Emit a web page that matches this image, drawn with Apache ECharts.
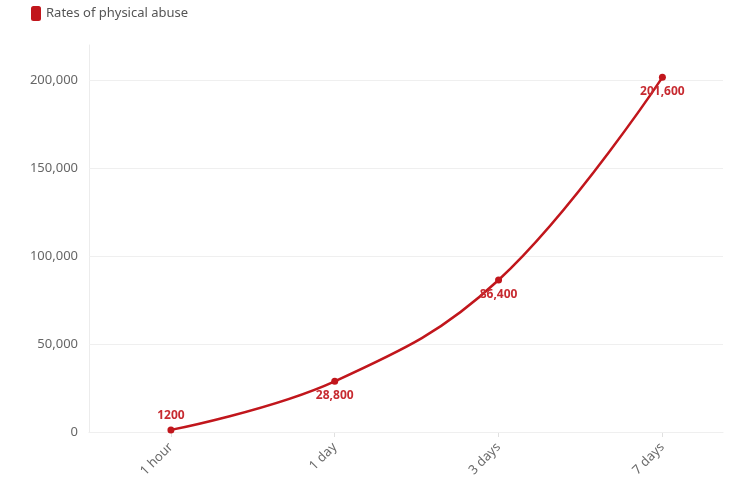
<!DOCTYPE html>
<html>
<head>
<meta charset="utf-8">
<script src="https://cdn.jsdelivr.net/npm/echarts@6/dist/echarts.min.js"></script>
<style>html,body{margin:0;padding:0;background:#fff;}#c{width:748px;height:486px;}</style>
</head>
<body>
<div id="c"></div>
<script>
const categories = ['1 hour', '1 day', '3 days', '7 days'];
const seriesName = 'Rates of physical abuse';
const values = [1200, 28800, 86400, 201600];
const valueLabels = ['1200', '28,800', '86,400', '201,600'];
const labelPositions = ['top', 'bottom', 'bottom', 'bottom'];
const yTicks = [0, 50000, 100000, 150000, 200000];

const RED = '#c1161c';
const chart = echarts.init(document.getElementById('c'), null, {renderer: 'canvas'});
const fmt = v => v.toLocaleString('en-US');

chart.setOption({
  animation: false,
  textStyle: {fontFamily: 'Noto Sans'},
  legend: {
    show: true, left: 26, top: 1, itemWidth: 10, itemHeight: 15, icon: 'roundRect', itemGap: 6,
    textStyle: {color: '#555', fontSize: 13, fontFamily: 'Noto Sans'},
    data: [seriesName]
  },
  grid: {left: 89, right: 25, top: 45, bottom: 54, containLabel: false},
  xAxis: {
    type: 'value', min: -0.5, max: 3.37, interval: 0.5,
    axisLine: {show: true, lineStyle: {color: '#ececec'}},
    axisTick: {show: true, length: 5, lineStyle: {color: '#e0e0e0'}, customValues: [0, 1, 2, 3]},
    splitLine: {show: false},
    axisLabel: {
      customValues: [0, 1, 2, 3], rotate: 45, color: '#6a6a6a', fontSize: 13, margin: 13,
      formatter: v => (Number.isInteger(v) && categories[v] !== undefined) ? categories[v] : ''
    }
  },
  yAxis: {
    type: 'value', min: 0, max: 220000, interval: 50000,
    axisLine: {show: true, onZero: false, lineStyle: {color: '#ececec'}},
    axisTick: {show: false},
    splitLine: {show: false},
    axisLabel: {color: '#666', fontSize: 13, margin: 11, formatter: v => fmt(v), customValues: yTicks}
  },
  series: [{
    name: 'grid', type: 'line', data: [], z: 1, silent: true,
    markLine: {
      silent: true, symbol: 'none', label: {show: false}, animation: false,
      lineStyle: {color: '#efefef', type: 'solid', width: 1},
      data: yTicks.map(t => ({yAxis: t}))
    }
  }, {
    name: seriesName, type: 'line', smooth: 0.4,
    data: values.map((v, i) => ({
      value: [i, v],
      label: {show: true, position: labelPositions[i], formatter: valueLabels[i]}
    })),
    symbol: 'circle', symbolSize: 7,
    itemStyle: {color: RED},
    lineStyle: {color: RED, width: 2.5},
    label: {color: '#c72a30', fontWeight: 'bold', fontSize: 12, distance: 5, fontFamily: 'Noto Sans'},
    z: 5
  }]
});
</script>
</body>
</html>
